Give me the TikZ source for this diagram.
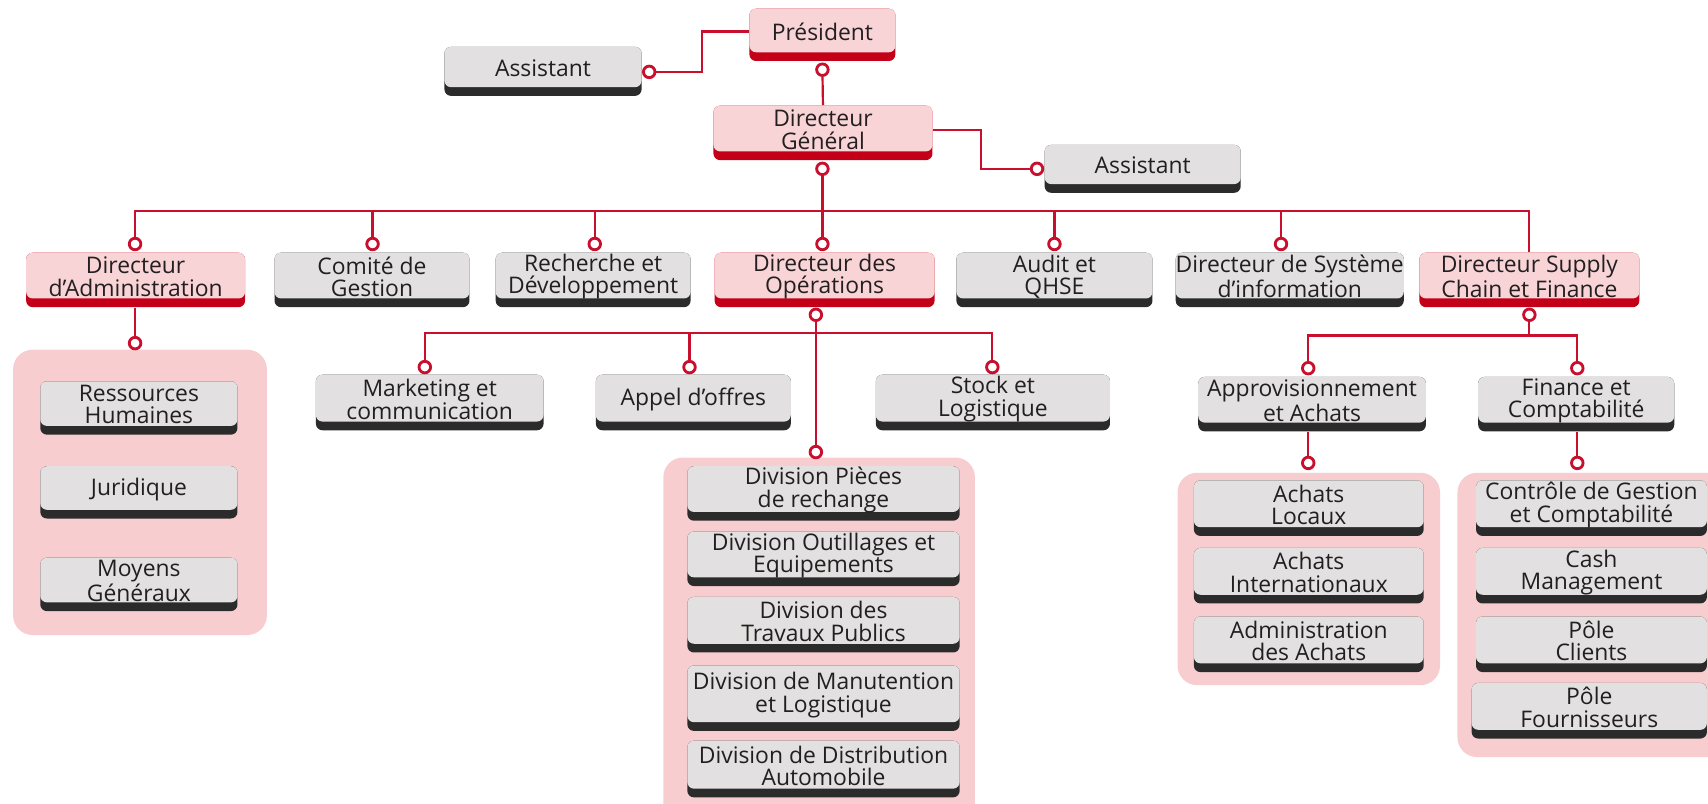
\documentclass[tikz,border=0pt]{standalone}
\usepackage{fontspec}
\setmainfont{Open Sans}
\definecolor{lred}{HTML}{C8102E}
\definecolor{bandred}{HTML}{C40018}
\definecolor{pinkbox}{HTML}{F9D4D7}
\definecolor{pinkgrp}{HTML}{F8CDD0}
\definecolor{greybox}{HTML}{E2E0E0}
\definecolor{darkband}{HTML}{2B2B2B}
\definecolor{txt}{HTML}{231F20}
\begin{document}
\begin{tikzpicture}[x=0.5pt,y=-0.5pt,
  bb/.style args={#1,#2,#3,#4}{at={({(#1+#3)/2},{(#2+#4)/2})},
    minimum width={(#3-#1)*0.5pt}, minimum height={(#4-#2)*0.5pt}},
  bx/.style args={#1,#2,#3,#4}{at={({(#1+#3)/2},{(#2-6+#4)/2})},
    minimum width={(#3-#1)*0.5pt}, minimum height={(#4-#2+6)*0.5pt}},
  box/.style={rectangle, inner sep=0pt, align=center,
    font=\fontsize{10.5}{10.3}\selectfont, text=txt},
  gbox/.style={box, path picture={
    \fill[darkband, rounded corners=3pt]
      ([yshift=-3pt]path picture bounding box.north west) rectangle
      (path picture bounding box.south east);
    \fill[greybox, rounded corners=3pt]
      ([yshift=-3pt]path picture bounding box.north west) rectangle
      ([yshift=4pt]path picture bounding box.south east);}},
  pbox/.style={box, path picture={
    \fill[bandred, rounded corners=3pt]
      ([yshift=-3pt]path picture bounding box.north west) rectangle
      (path picture bounding box.south east);
    \fill[pinkbox, rounded corners=3pt]
      ([yshift=-3pt]path picture bounding box.north west) rectangle
      ([yshift=4pt]path picture bounding box.south east);}},
  grp/.style={rectangle, fill=pinkgrp, rounded corners=9pt, inner sep=0pt},
  link/.style={draw=lred, line width=1pt},
  dot/.style={circle, draw=lred, line width=1.3pt, fill=white, minimum size=5.3pt, inner sep=0pt},
]
\useasboundingbox (0,0) rectangle (1568,738);
\fill[white] (0,0) rectangle (1568,738);
\clip (0,0) rectangle (1568,738);

% group containers
\node[grp, bb={12,321,245,583}] (gDA) {};
\node[grp, bb={609,420,895,760}] (gOP) {};
\node[grp, bb={1081,434,1322,629}] (gAP) {};
\node[grp, bb={1338,434,1590,695}] (gFC) {};

% top
\node[pbox, bx={688,8,822,56}] (pres) {Président};
\node[gbox, bx={408,43,589,88}] (asL) {Assistant};
\node[pbox, bx={655,97,856,147}] (dg) {Directeur\\Général};
\node[gbox, bx={959,133,1139,177}] (asR) {Assistant};

% row 1
\node[pbox, bx={24,232,225,282}] (da) {Directeur\\d’Administration};
\node[gbox, bx={252,232,431,282}] (cg) {Comité de\\Gestion};
\node[gbox, bx={455,232,634,282}] (rd) {Recherche et\\Développement};
\node[pbox, bx={656,232,858,282}] (dop) {Directeur des\\Opérations};
\node[gbox, bx={878,232,1058,282}] (aq) {Audit et\\QHSE};
\node[gbox, bx={1081,232,1287,282}] (dsi) {Directeur de Système\\d’information};
\node[pbox, bx={1303,232,1505,282}] (dscf) {Directeur Supply\\Chain et Finance};

% row 2
\node[gbox, bx={290,344,499,395}] (mk) {Marketing et\\communication};
\node[gbox, bx={547,344,726,395}] (ao) {Appel d’offres};
\node[gbox, bx={804,344,1019,395}] (sl) {Stock et\\Logistique};
\node[gbox, bx={1100,346,1309,396}] (ap) {Approvisionnement\\et Achats};
\node[gbox, bx={1357,346,1537,396}] (fc) {Finance et\\Comptabilité};

% DA items
\node[gbox, bx={37,350,218,399}] (rh) {Ressources\\Humaines};
\node[gbox, bx={37,428,218,476}] (ju) {Juridique};
\node[gbox, bx={37,512,218,561}] (mg) {Moyens\\Généraux};

% Operations items
\node[gbox, bx={631,428,881,478}] (d1) {Division Pièces\\de rechange};
\node[gbox, bx={631,488,881,538}] (d2) {Division Outillages et\\Equipements};
\node[gbox, bx={631,548,881,599}] (d3) {Division des\\Travaux Publics};
\node[gbox, bx={631,611,881,671}] (d4) {Division de Manutention\\et Logistique};
\node[gbox, bx={631,680,881,732}] (d5) {Division de Distribution\\Automobile};

% Achats items
\node[gbox, bx={1096,441,1307,492}] (a1) {Achats\\Locaux};
\node[gbox, bx={1096,503,1307,554}] (a2) {Achats\\Internationaux};
\node[gbox, bx={1096,566,1307,617}] (a3) {Administration\\des Achats};

% Finance items
\node[gbox, bx={1355,441,1567,492}] (f1) {Contrôle de Gestion\\et Comptabilité};
\node[gbox, bx={1355,503,1567,554}] (f2) {Cash\\Management};
\node[gbox, bx={1355,566,1567,617}] (f3) {Pôle\\Clients};
\node[gbox, bx={1351,627,1567,678}] (f4) {Pôle\\Fournisseurs};

% circles
\node[dot] (kPres) at (755,64) {};
\node[dot] (kAsL) at (596,66) {};
\node[dot] (kDG) at (755,155) {};
\node[dot] (kAsR) at (952,155) {};
\node[dot] (kDA) at (124,224) {};
\node[dot] (kCG) at (342,224) {};
\node[dot] (kRD) at (546,224) {};
\node[dot] (kDOp) at (755,224) {};
\node[dot] (kAQ) at (968,224) {};
\node[dot] (kDSI) at (1176,224) {};
\node[dot] (kDAg) at (124,315) {};
\node[dot] (kOPs) at (749,289) {};
\node[dot] (kMK) at (390,337) {};
\node[dot] (kAO) at (633,337) {};
\node[dot] (kSL) at (911,337) {};
\node[dot] (kOPg) at (749,415) {};
\node[dot] (kSC) at (1404,289) {};
\node[dot] (kAP) at (1201,338) {};
\node[dot] (kFC) at (1448,338) {};
\node[dot] (kAPg) at (1201,425) {};
\node[dot] (kFCg) at (1448,425) {};

\coordinate (bus) at (124,194);
\coordinate (sbA) at (390,306);
\coordinate (sbB) at (1201,308);

% connectors
\draw[link] (pres.west) -- ++(-43,0) |- (kAsL);
\draw[link] (kPres) -- ([yshift=-3pt]dg.north);
\draw[link] (dg.east) -- ++(44,0) |- (kAsR);
\draw[link] (kDG) -- (kDOp);
\draw[link] (kDA) -- (bus) -- (dscf.north |- bus) -- ([yshift=-3pt]dscf.north);
\draw[link] (kCG) -- (kCG |- bus);
\draw[link] (kRD) -- (kRD |- bus);
\draw[link] (kAQ) -- (kAQ |- bus);
\draw[link] (kDSI) -- (kDSI |- bus);
\draw[link] (kDA |- da.south) -- (kDAg);
\draw[link] (kOPs) -- (kOPg);
\draw[link] (kMK) -- (kMK |- sbA) -- (kSL |- sbA) -- (kSL);
\draw[link] (kAO) -- (kAO |- sbA);
\draw[link] (kSC) -- (kSC |- sbB);
\draw[link] (kAP) -- (kAP |- sbB) -- (kFC |- sbB) -- (kFC);
\draw[link] (kAPg |- ap.south) -- (kAPg);
\draw[link] (kFCg |- fc.south) -- (kFCg);
\end{tikzpicture}
\end{document}
